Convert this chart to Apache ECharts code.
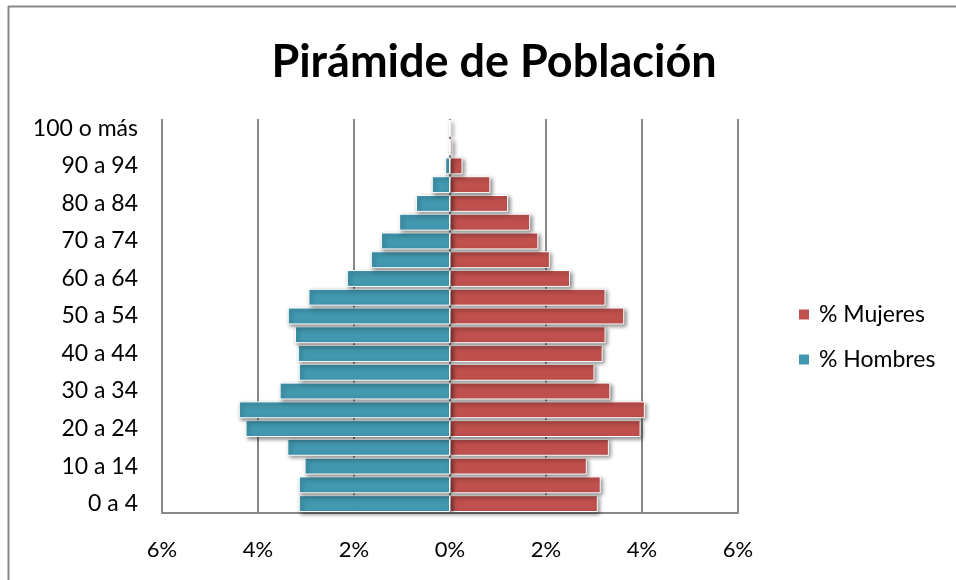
<!DOCTYPE html>
<html>
<head>
<meta charset="utf-8">
<script src="https://cdn.jsdelivr.net/npm/echarts@6/dist/echarts.min.js"></script>
<style>
html,body{margin:0;padding:0;background:#fff;}
#chart{width:956px;height:580px;}
</style>
</head>
<body>
<div id="chart"></div>
<script>
var categories = ["0 a 4","5 a 9","10 a 14","15 a 19","20 a 24","25 a 29","30 a 34","35 a 39","40 a 44","45 a 49","50 a 54","55 a 59","60 a 64","65 a 69","70 a 74","75 a 79","80 a 84","85 a 89","90 a 94","95 a 99","100 o más"];
var mujeres = [3.08,3.14,2.85,3.31,3.97,4.06,3.34,3.01,3.18,3.24,3.63,3.24,2.50,2.08,1.84,1.67,1.21,0.84,0.26,0.05,0.01];
var hombres = [3.15,3.15,3.03,3.39,4.26,4.40,3.55,3.15,3.17,3.23,3.38,2.95,2.15,1.65,1.44,1.06,0.71,0.38,0.10,0.02,0.01];
var xTicks = {min:-6, max:6, interval:2};

var chart = echarts.init(document.getElementById('chart'));
var font = 'Lato, "Open Sans", sans-serif';
var shadow = {shadowBlur:4, shadowOffsetX:2, shadowOffsetY:2, shadowColor:'rgba(0,0,0,0.45)', borderColor:'#fff', borderWidth:1};
chart.setOption({
  animation:false,
  title:{text:'Pirámide de Población', left:489, textAlign:'center', top:35, textStyle:{fontFamily:font, fontWeight:'bold', fontSize:45, color:'#000'}},
  graphic:[
    {type:'line', shape:{x1:8.5,y1:6,x2:8.5,y2:580}, style:{stroke:'#888', lineWidth:2}},
    {type:'line', shape:{x1:8,y1:6.5,x2:956,y2:6.5}, style:{stroke:'#888', lineWidth:2}}
  ],
  legend:{orient:'vertical', left:792, top:298, itemWidth:12, itemHeight:12, itemGap:22, icon:'rect',
    data:['% Mujeres','% Hombres'], textStyle:{fontFamily:font, fontSize:23, color:'#000', padding:[0,0,0,4]}},
  grid:{left:162, right:218, top:119, bottom:67, containLabel:false},
  xAxis:{type:'value', min:xTicks.min, max:xTicks.max, interval:xTicks.interval,
    axisLine:{show:true, lineStyle:{color:'#888', width:2}}, axisTick:{show:false},
    splitLine:{show:true, lineStyle:{color:'#888', width:2}},
    axisLabel:{fontFamily:font, fontSize:22, color:'#000', margin:26, formatter:function(v){return Math.abs(v)+'%';}}},
  yAxis:{type:'category', data:categories, axisLine:{show:false}, axisTick:{show:false},
    axisLabel:{interval:1, fontFamily:font, fontSize:23, color:'#000', margin:24}},
  series:[
    {name:'% Mujeres', type:'bar', data:mujeres, barGap:'-100%', barCategoryGap:'10%', itemStyle:Object.assign({color:'#C0504D'}, shadow)},
    {name:'% Hombres', type:'bar', data:hombres.map(function(v){return -v;}), barCategoryGap:'10%', itemStyle:Object.assign({color:'#4198AF'}, shadow)}
  ]
});
</script>
</body>
</html>
